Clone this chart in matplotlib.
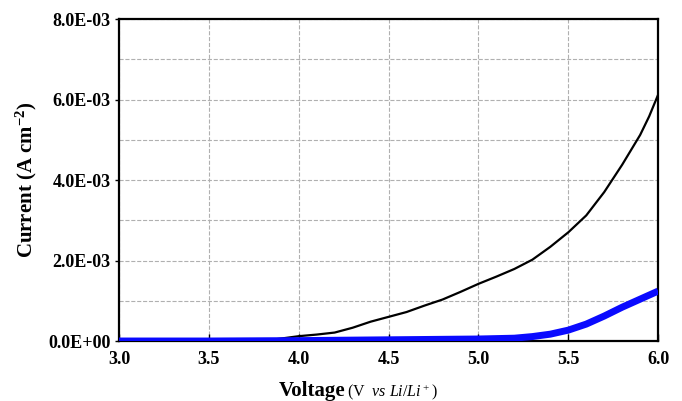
import matplotlib
matplotlib.use("Agg")
import matplotlib.pyplot as plt
from matplotlib.ticker import MultipleLocator, FormatStrFormatter

# values (A cm^-2 vs V)
volt_black = [3.0, 3.5, 3.8, 3.9, 4.0, 4.1, 4.2, 4.3, 4.4, 4.5, 4.6, 4.7, 4.8, 4.9,
              5.0, 5.1, 5.2, 5.3, 5.4, 5.5, 5.6, 5.7, 5.8, 5.85, 5.9, 5.95, 6.0]
curr_black = [0.0, 0.0, 0.0, 0.06e-3, 0.12e-3, 0.16e-3, 0.21e-3, 0.33e-3, 0.48e-3, 0.6e-3,
              0.72e-3, 0.88e-3, 1.03e-3, 1.22e-3, 1.42e-3, 1.6e-3, 1.79e-3, 2.02e-3,
              2.34e-3, 2.7e-3, 3.12e-3, 3.7e-3, 4.38e-3, 4.75e-3, 5.12e-3, 5.58e-3, 6.12e-3]

volt_blue = [3.0, 3.5, 4.0, 4.5, 5.0, 5.2, 5.3, 5.4, 5.5, 5.6, 5.7, 5.8, 5.9, 6.0]
curr_blue = [0.0, 0.0, 0.01e-3, 0.03e-3, 0.05e-3, 0.07e-3, 0.11e-3, 0.17e-3, 0.27e-3,
             0.42e-3, 0.62e-3, 0.84e-3, 1.04e-3, 1.24e-3]

x_ticks = [3.0, 3.5, 4.0, 4.5, 5.0, 5.5, 6.0]
y_ticks = [0.0, 2e-3, 4e-3, 6e-3, 8e-3]

plt.rcParams['font.family'] = ['Liberation Serif', 'DejaVu Serif']
plt.rcParams['mathtext.fontset'] = 'custom'
plt.rcParams['mathtext.rm'] = 'Liberation Serif'
plt.rcParams['mathtext.it'] = 'Liberation Serif:italic'
plt.rcParams['mathtext.bf'] = 'Liberation Serif:bold'

fig = plt.figure(figsize=(6.82, 4.01), dpi=100)
ax = fig.add_axes([0.1745, 0.1496, 0.7905, 0.803])

ax.plot(volt_black, curr_black, color='black', lw=1.6, zorder=3)
ax.plot(volt_blue, curr_blue, color='#0a0aff', lw=5, solid_capstyle='butt', zorder=4)

ax.set_xlim(3.0, 6.0)
ax.set_ylim(0, 8e-3)
ax.set_xticks(x_ticks)
ax.set_yticks(y_ticks)
ax.yaxis.set_minor_locator(MultipleLocator(1e-3))
ax.xaxis.set_major_formatter(FormatStrFormatter('%.1f'))
ax.yaxis.set_major_formatter(lambda v, pos: f"{v:.1E}")

ax.grid(True, which='both', axis='y', ls='--', color='#b0b0b0', lw=0.8)
ax.grid(True, which='major', axis='x', ls='--', color='#b0b0b0', lw=0.8)
ax.set_axisbelow(True)

ax.tick_params(axis='x', direction='in', length=5, width=1, pad=7)
ax.tick_params(axis='y', direction='out', length=3, width=1, pad=3)
ax.tick_params(which='minor', length=0)
for lab in ax.get_xticklabels() + ax.get_yticklabels():
    lab.set_fontweight('bold')
    lab.set_fontsize(13)
for s in ax.spines.values():
    s.set_linewidth(1.6)

ax.set_ylabel(r"Current (A cm$^{\mathbf{-2}}$)", fontsize=15, fontweight='bold', labelpad=7)

fig.text(0.507, 0.012, "Voltage", fontsize=15, fontweight='bold', ha='right', va='baseline')
fig.text(0.509, 0.012, r"(V  $\it{vs\ Li/Li^+}$)", fontsize=11.5, ha='left', va='baseline')

plt.savefig("out.png", dpi=100)
plt.close()
